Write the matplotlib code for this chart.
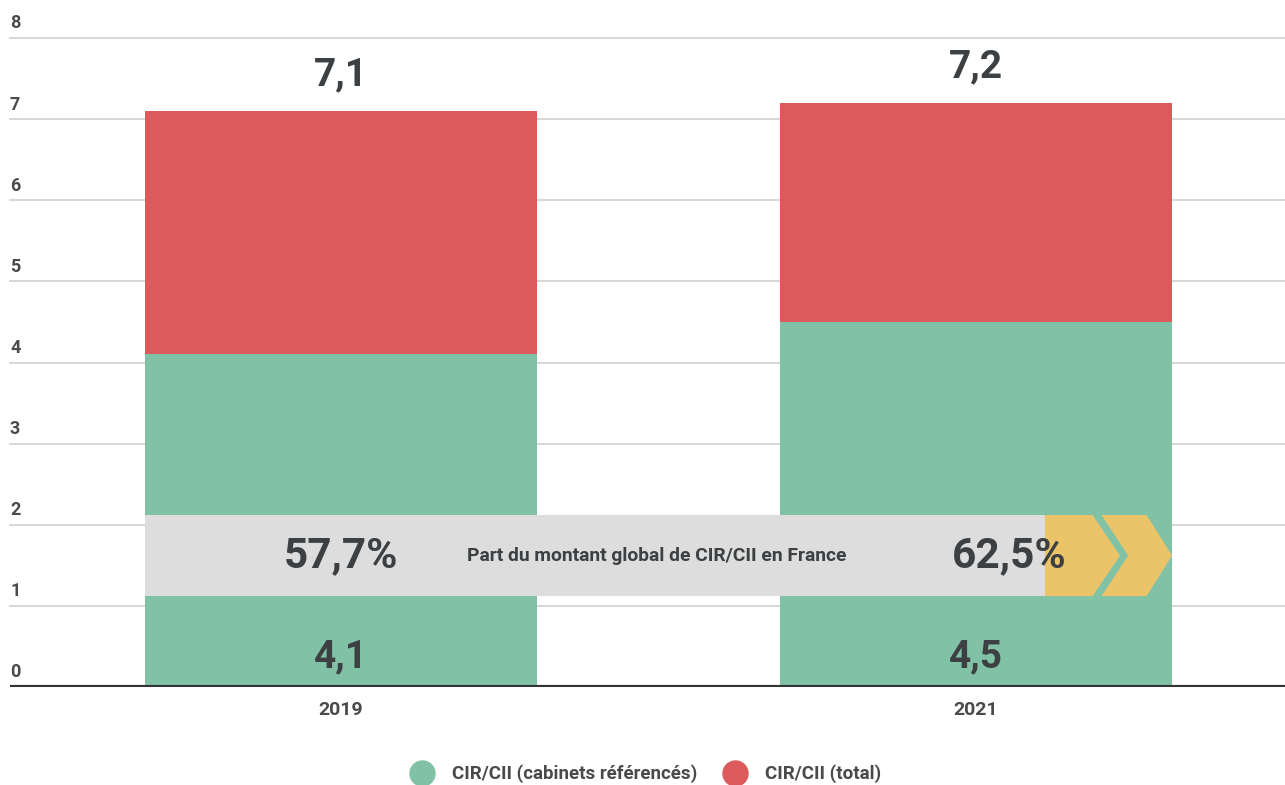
import matplotlib.pyplot as plt
from matplotlib.patches import Polygon, Rectangle
from matplotlib.lines import Line2D

years = ['2019', '2021']
cir_cabinets = [4.1, 4.5]
cir_total = [7.1, 7.2]
part_labels = ['57,7%', '62,5%']
band_title = 'Part du montant global de CIR/CII en France'
y_ticks = [0, 1, 2, 3, 4, 5, 6, 7, 8]

GREEN = '#81c1a5'
RED = '#dd5a5c'
GREY_BAND = '#dcdddc'
YELLOW = '#ebc46a'
TEXT = '#3c4043'

plt.rcParams['font.family'] = ['Roboto', 'DejaVu Sans']


def fr(v):
    return f'{v:.1f}'.replace('.', ',')


fig = plt.figure(figsize=(12.85, 7.85), dpi=100)
ax = fig.add_axes([10 / 1285, 98 / 785, 1275 / 1285, 649 / 785])

x = list(range(len(years)))
width = 0.617
rest = [t - c for t, c in zip(cir_total, cir_cabinets)]

ax.set_xlim(-0.521, 1.487)
ax.set_ylim(0, 8)

# horizontal grid lines with labels sitting above them
for t in y_ticks[1:]:
    ax.axhline(t, color='#d4d4d4', lw=1.3, zorder=0, clip_on=False)
for t in y_ticks:
    ax.annotate(str(t), (0, t), xycoords=('axes fraction', 'data'),
                xytext=(0, 4), textcoords='offset points',
                ha='left', va='bottom', fontsize=13, fontweight='bold',
                color='#4a4a4a')

ax.bar(x, cir_cabinets, width, color=GREEN, zorder=2)
ax.bar(x, rest, width, bottom=cir_cabinets, color=RED, zorder=2)
ax.axhline(0, color='#333333', lw=3, zorder=5)

for xi, t, c in zip(x, cir_total, cir_cabinets):
    ax.annotate(fr(t), (xi, t), xytext=(0, 26), textcoords='offset points',
                ha='center', va='center', fontsize=28, fontweight='bold',
                color=TEXT)
    ax.annotate(fr(c), (xi, 0), xytext=(0, 22), textcoords='offset points',
                ha='center', va='center', fontsize=28, fontweight='bold',
                color=TEXT)

# grey band with yellow chevrons
y0, y1 = 1.12, 2.12
ym = (y0 + y1) / 2
left = x[0] - width / 2
grey_end = 1.109
ax.add_patch(Rectangle((left, y0), grey_end - left, y1 - y0,
                       color=GREY_BAND, lw=0, zorder=3))
ax.add_patch(Polygon([(grey_end, y0), (1.184, y0), (1.227, ym),
                      (1.184, y1), (grey_end, y1)],
                     closed=True, color=YELLOW, lw=0, zorder=3))
ax.add_patch(Polygon([(1.198, y0), (1.269, y0), (1.309, ym),
                      (1.269, y1), (1.198, y1), (1.240, ym)],
                     closed=True, color=YELLOW, lw=0, zorder=3))

ax.text(x[0], ym, part_labels[0], ha='center', va='center', fontsize=30.5,
        fontweight='bold', color=TEXT, zorder=4)
ax.text(1.052, ym, part_labels[1], ha='center', va='center', fontsize=30.5,
        fontweight='bold', color=TEXT, zorder=4)
ax.text(0.497, ym, band_title, ha='center', va='center', fontsize=13.9,
        fontweight='bold', color=TEXT, zorder=4)

ax.set_xticks(x)
ax.set_xticklabels(years, fontsize=14, fontweight='bold', color='#4a4a4a')
ax.tick_params(axis='x', length=0, pad=10)
ax.set_yticks([])
for s in ax.spines.values():
    s.set_visible(False)

handles = [
    Line2D([], [], marker='o', ls='', ms=18, color=GREEN,
           label='CIR/CII (cabinets référencés)'),
    Line2D([], [], marker='o', ls='', ms=18, color=RED,
           label='CIR/CII (total)'),
]
leg = fig.legend(handles=handles, loc='center', bbox_to_anchor=(0.5, 11 / 785),
                 ncol=2, frameon=False, fontsize=13.5, handletextpad=0.6,
                 columnspacing=1.0)
for t in leg.get_texts():
    t.set_color('#4a4a4a')
    t.set_fontweight('bold')

fig.savefig('out.png', dpi=100)
